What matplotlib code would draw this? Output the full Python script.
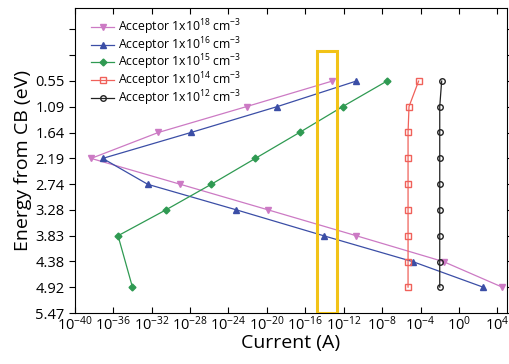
import numpy as np
import matplotlib.pyplot as plt
from matplotlib.patches import Rectangle

plt.rcParams['font.family'] = ['Open Sans', 'DejaVu Sans']
plt.rcParams['mathtext.fontset'] = 'custom'
plt.rcParams['mathtext.rm'] = 'Open Sans'
plt.rcParams['mathtext.it'] = 'Open Sans'

# energy levels (eV from CB)
energy = [0.55, 1.09, 1.64, 2.19, 2.74, 3.28, 3.83, 4.38, 4.92]
energy_green = [0.55, 1.09, 1.64, 2.19, 2.74, 3.28, 3.83, 4.92]

# log10 of current (A)
log_i18 = [-13.2, -22.1, -31.3, -38.3, -29.0, -19.9, -10.7, -1.6, 4.5]
log_i16 = [-10.7, -18.9, -27.9, -37.1, -32.4, -23.2, -14.1, -4.8, 2.5]
log_i15 = [-7.5, -12.1, -16.6, -21.2, -25.8, -30.5, -35.5, -34.0]
log_i14 = [-4.2, -5.2, -5.3, -5.3, -5.3, -5.3, -5.3, -5.3, -5.3]
log_i12 = [-1.8, -2.0, -2.0, -2.0, -2.0, -2.0, -2.0, -2.0, -2.0]

labels = ["Acceptor 1x10$^{18}$ cm$^{-3}$", "Acceptor 1x10$^{16}$ cm$^{-3}$",
          "Acceptor 1x10$^{15}$ cm$^{-3}$", "Acceptor 1x10$^{14}$ cm$^{-3}$",
          "Acceptor 1x10$^{12}$ cm$^{-3}$"]

xtick_exp = list(range(-40, 5, 4))
ytick_vals = [-0.547, 0.0, 0.547, 1.094, 1.641, 2.188, 2.735, 3.282, 3.829, 4.376, 4.923, 5.47]
ytick_labels = ["", "", "0.55", "1.09", "1.64", "2.19", "2.74", "3.28", "3.83", "4.38", "4.92", "5.47"]

# highlighted window (log10 current, energy)
box_log = [-14.75, -12.65]
box_top = -0.08

fig = plt.figure(figsize=(5.09, 3.64), dpi=100)
ax = fig.add_axes([0.147, 0.14, 0.849, 0.838])

ax.plot(10.0**np.array(log_i18), energy, '-v', color='#cc7ac4', ms=4, lw=0.9, label=labels[0])
ax.plot(10.0**np.array(log_i16), energy, '-^', color='#3b4ea6', ms=4, lw=0.9, label=labels[1])
ax.plot(10.0**np.array(log_i15), energy_green, '-D', color='#2f9a52', ms=3.5, lw=0.9, label=labels[2])
ax.plot(10.0**np.array(log_i14), energy, '-s', color='#f0615a', ms=4, lw=0.9, mfc='none', label=labels[3])
ax.plot(10.0**np.array(log_i12), energy, '-o', color='#222222', ms=4, lw=0.9, mfc='none', label=labels[4])

ax.add_patch(Rectangle((10.0**box_log[0], box_top), 10.0**box_log[1] - 10.0**box_log[0],
                       5.47 - box_top, fill=False, ec='#f2c318', lw=2.2, zorder=5))

ax.set_xscale('log')
ax.set_xlim(1e-40, 1e5)
ax.set_ylim(5.47, -1.0)
ax.set_xticks([10.0**e for e in xtick_exp])
ax.set_xticklabels(["$10^{%d}$" % e for e in xtick_exp])
ax.xaxis.set_minor_locator(plt.NullLocator())
ax.set_yticks(ytick_vals)
ax.set_yticklabels(ytick_labels)
ax.tick_params(axis='both', labelsize=10.5, direction='in', top=True, right=True, length=4)
ax.tick_params(axis='y', which='both', left=True, direction='out')
ax.tick_params(axis='x', pad=2)

ax.set_xlabel("Current (A)", fontsize=14, labelpad=0)
ax.set_ylabel("Energy from CB (eV)", fontsize=14, labelpad=2)

ax.legend(loc='upper left', bbox_to_anchor=(0.038, 0.97), fontsize=8.8, frameon=False,
          handlelength=1.9, labelspacing=-0.15, borderaxespad=0.0, borderpad=0.0,
          handletextpad=0.3)

fig.savefig("out.png", dpi=100)
